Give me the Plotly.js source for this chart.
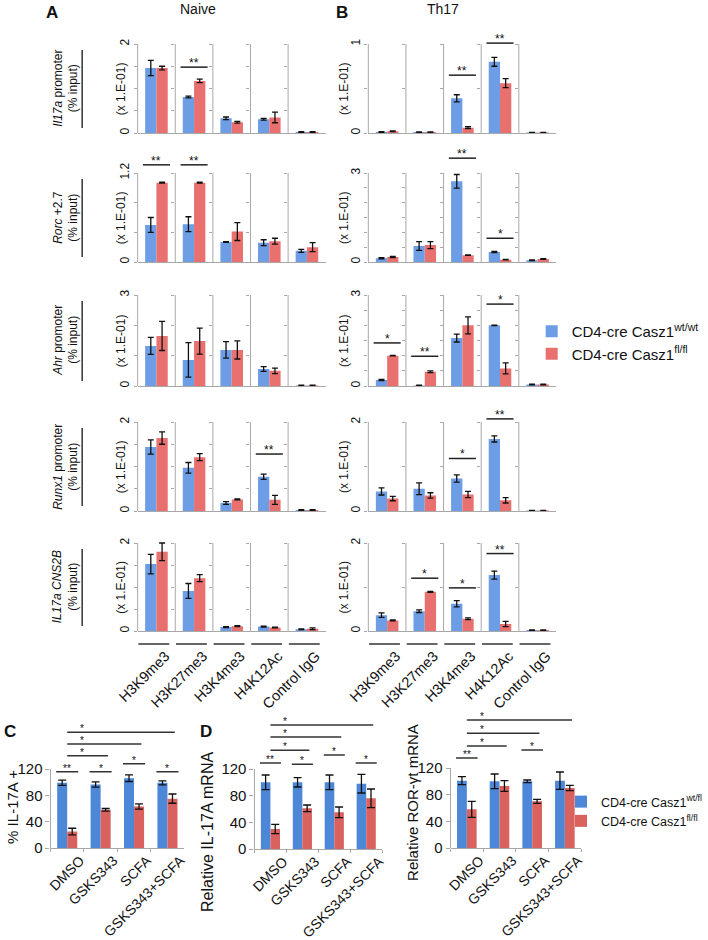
<!DOCTYPE html>
<html><head><meta charset="utf-8">
<script src="https://cdn.plot.ly/plotly-3.0.1.min.js"></script>
<style>html,body{margin:0;padding:0;background:#fff}</style>
</head><body><div id="chart" style="width:708px;height:940px"></div>
<script>
// ================= DATA =================
const marks = ['H3K9me3','H3K27me3','H3K4me3','H4K12Ac','Control IgG'];
const loci = ['<i>Il17a</i> promoter','<i>Rorc</i> +2.7','<i>Ahr</i> promoter','<i>Runx1</i> promoter','<i>IL17a CNS2B</i>'];
const seriesNamesAB = ['CD4-cre Casz1<sup>wt/wt</sup>','CD4-cre Casz1<sup>fl/fl</sup>'];
const seriesNamesCD = ['CD4-cre Casz1<sup>wt/fl</sup>','CD4-cre Casz1<sup>fl/fl</sup>'];

// y-axis maxima / tick steps (x 1.E-01 % input)
const naiveYMax = [2, 1.2, 3, 2, 2];
const naiveYStep = [0.5, 0.4, 1, 0.5, 0.5];
const th17YMax = [1, 3, 3, 2, 2];
const th17YStep = [0.5, 0.5, 0.5, 1, 1];

// Panel A - Naive
const naiveIl17aWT = [1.46, 0.81, 0.33, 0.31, 0.02];
const naiveIl17aWTErr = [0.17, 0.02, 0.03, 0.02, 0.01];
const naiveIl17aKO = [1.46, 1.17, 0.24, 0.35, 0.02];
const naiveIl17aKOErr = [0.04, 0.04, 0.02, 0.12, 0.01];
const naiveIl17aSig = [['H3K27me3', 1.48, '**']];

const naiveRorcWT = [0.50, 0.51, 0.27, 0.26, 0.15];
const naiveRorcWTErr = [0.10, 0.10, 0.005, 0.04, 0.02];
const naiveRorcKO = [1.07, 1.07, 0.41, 0.28, 0.20];
const naiveRorcKOErr = [0.005, 0.005, 0.12, 0.04, 0.06];
const naiveRorcSig = [['H3K9me3', 1.31, '**'], ['H3K27me3', 1.31, '**']];

const naiveAhrWT = [1.32, 0.86, 1.19, 0.56, 0.02];
const naiveAhrWTErr = [0.28, 0.57, 0.27, 0.08, 0.005];
const naiveAhrKO = [1.65, 1.48, 1.19, 0.50, 0.02];
const naiveAhrKOErr = [0.48, 0.43, 0.30, 0.09, 0.005];
const naiveAhrSig = [];

const naiveRunx1WT = [1.44, 0.97, 0.18, 0.77, 0.02];
const naiveRunx1WTErr = [0.16, 0.12, 0.03, 0.06, 0.01];
const naiveRunx1KO = [1.64, 1.21, 0.26, 0.25, 0.02];
const naiveRunx1KOErr = [0.14, 0.08, 0.01, 0.10, 0.01];
const naiveRunx1Sig = [['H4K12Ac', 1.28, '**']];

const naiveCns2bWT = [1.52, 0.91, 0.09, 0.10, 0.04];
const naiveCns2bWTErr = [0.22, 0.17, 0.01, 0.01, 0.01];
const naiveCns2bKO = [1.80, 1.20, 0.11, 0.08, 0.05];
const naiveCns2bKOErr = [0.20, 0.08, 0.01, 0.01, 0.02];
const naiveCns2bSig = [];

// Panel B - Th17
const th17Il17aWT = [0.01, 0.01, 0.39, 0.80, 0.005];
const th17Il17aWTErr = [0.005, 0.003, 0.04, 0.05, 0.002];
const th17Il17aKO = [0.02, 0.01, 0.06, 0.56, 0.005];
const th17Il17aKOErr = [0.005, 0.003, 0.01, 0.05, 0.002];
const th17Il17aSig = [['H3K4me3', 0.65, '**'], ['H4K12Ac', 1.01, '**']];

const th17RorcWT = [0.13, 0.54, 2.72, 0.34, 0.06];
const th17RorcWTErr = [0.02, 0.15, 0.23, 0.02, 0.01];
const th17RorcKO = [0.17, 0.57, 0.23, 0.08, 0.10];
const th17RorcKOErr = [0.02, 0.12, 0.01, 0.01, 0.01];
const th17RorcSig = [['H3K4me3', 3.5, '**'], ['H4K12Ac', 0.8, '*']];

const th17AhrWT = [0.20, 0.02, 1.58, 2.00, 0.05];
const th17AhrWTErr = [0.02, 0.005, 0.13, 0.01, 0.01];
const th17AhrKO = [1.00, 0.47, 2.00, 0.58, 0.05];
const th17AhrKOErr = [0.01, 0.03, 0.28, 0.18, 0.01];
const th17AhrSig = [['H3K9me3', 1.42, '*'], ['H3K27me3', 0.98, '**'], ['H4K12Ac', 2.7, '*']];

const th17Runx1WT = [0.44, 0.50, 0.73, 1.62, 0.01];
const th17Runx1WTErr = [0.08, 0.13, 0.08, 0.07, 0.005];
const th17Runx1KO = [0.28, 0.35, 0.37, 0.24, 0.01];
const th17Runx1KOErr = [0.05, 0.06, 0.07, 0.06, 0.005];
const th17Runx1Sig = [['H3K4me3', 1.18, '*'], ['H4K12Ac', 2.07, '**']];

const th17Cns2bWT = [0.36, 0.45, 0.62, 1.27, 0.02];
const th17Cns2bWTErr = [0.05, 0.03, 0.07, 0.09, 0.005];
const th17Cns2bKO = [0.24, 0.89, 0.28, 0.16, 0.02];
const th17Cns2bKOErr = [0.01, 0.01, 0.02, 0.06, 0.005];
const th17Cns2bSig = [['H3K27me3', 1.2, '*'], ['H3K4me3', 0.98, '*'], ['H4K12Ac', 1.76, '**']];

// Panels C / D
const conds = ['DMSO','GSKS343','SCFA','GSKS343+SCFA'];
const cdYTicks = [0, 40, 80, 120];

const il17aPctWT = [99, 96.5, 106, 99];
const il17aPctWTErr = [4, 4, 5, 3];
const il17aPctKO = [25, 58, 63, 75];
const il17aPctKOErr = [5, 2, 4, 7];
const il17aPctSig = [['DMSO','DMSO',116,'**'],['GSKS343','GSKS343',116,'*'],['SCFA','SCFA',128,'*'],['GSKS343+SCFA','GSKS343+SCFA',116,'*'],['DMSO','GSKS343',140,'*'],['DMSO','SCFA',158,'*'],['DMSO','GSKS343+SCFA',176,'*']];

const il17aMrnaWT = [100, 100, 100, 98];
const il17aMrnaWTErr = [11, 7, 11, 14];
const il17aMrnaKO = [30, 61, 55, 76];
const il17aMrnaKOErr = [7, 5, 8, 14];
const il17aMrnaSig = [['DMSO','DMSO',129,'**'],['GSKS343','GSKS343',127,'*'],['SCFA','SCFA',141,'*'],['GSKS343+SCFA','GSKS343+SCFA',129,'*'],['DMSO','GSKS343',148,'*'],['DMSO','SCFA',168,'*'],['DMSO','GSKS343+SCFA',186,'*']];

const rorMrnaWT = [101, 100, 100, 101];
const rorMrnaWTErr = [6, 11, 2, 13];
const rorMrnaKO = [58, 93, 70, 90];
const rorMrnaKOErr = [12, 8, 3, 4];
const rorMrnaSig = [['DMSO','DMSO',135,'**'],['SCFA','SCFA',147,'*'],['DMSO','GSKS343',153,'*'],['DMSO','SCFA',172,'*'],['DMSO','GSKS343+SCFA',192,'*']];

// ================= BUILD =================
const FONT = 'Liberation Sans, Arial, Helvetica, sans-serif';
const W = 708, H = 940;
const px = v => v / W;
const py = v => 1 - v / H;
const BLUE_AB = '#6d9de4', RED_AB = '#e8716f';
const BLUE_CD = '#4d87d8', RED_CD = '#d9625f';
const AXC = '#a8a8a8';
const ERR = {type:'data', visible:true, color:'#111', thickness:1.3, width:3};

const naiveRows = [
  {wt:naiveIl17aWT, we:naiveIl17aWTErr, ko:naiveIl17aKO, ke:naiveIl17aKOErr, sig:naiveIl17aSig},
  {wt:naiveRorcWT, we:naiveRorcWTErr, ko:naiveRorcKO, ke:naiveRorcKOErr, sig:naiveRorcSig},
  {wt:naiveAhrWT, we:naiveAhrWTErr, ko:naiveAhrKO, ke:naiveAhrKOErr, sig:naiveAhrSig},
  {wt:naiveRunx1WT, we:naiveRunx1WTErr, ko:naiveRunx1KO, ke:naiveRunx1KOErr, sig:naiveRunx1Sig},
  {wt:naiveCns2bWT, we:naiveCns2bWTErr, ko:naiveCns2bKO, ke:naiveCns2bKOErr, sig:naiveCns2bSig}
];
const th17Rows = [
  {wt:th17Il17aWT, we:th17Il17aWTErr, ko:th17Il17aKO, ke:th17Il17aKOErr, sig:th17Il17aSig},
  {wt:th17RorcWT, we:th17RorcWTErr, ko:th17RorcKO, ke:th17RorcKOErr, sig:th17RorcSig},
  {wt:th17AhrWT, we:th17AhrWTErr, ko:th17AhrKO, ke:th17AhrKOErr, sig:th17AhrSig},
  {wt:th17Runx1WT, we:th17Runx1WTErr, ko:th17Runx1KO, ke:th17Runx1KOErr, sig:th17Runx1Sig},
  {wt:th17Cns2bWT, we:th17Cns2bWTErr, ko:th17Cns2bKO, ke:th17Cns2bKOErr, sig:th17Cns2bSig}
];

const rowsPx = [[44,133],[173,262],[295,386],[422,511],[543,631]];
const EXT = 24;
const cellW = 38;
const panelLeft = [139, 372];
const yTitleX = [122, 347];
const panels = [
  {rows: naiveRows, max: naiveYMax, step: naiveYStep},
  {rows: th17Rows, max: th17YMax, step: th17YStep}
];

const traces = [];
const shapes = [];
const annotations = [];
const layout = {
  width: W, height: H, autosize: false,
  margin: {l:0, r:0, t:0, b:0},
  paper_bgcolor: '#fff', plot_bgcolor: 'rgba(0,0,0,0)',
  barmode: 'group', bargap: 0.4, bargroupgap: 0,
  font: {family: FONT, color: '#111'},
  showlegend: true,
  legend: {x: px(537), y: py(315), xanchor:'left', yanchor:'top', font:{size:15, family:FONT}, bgcolor:'rgba(0,0,0,0)', tracegroupgap:0},
  legend2: {x: px(567), y: py(787), xanchor:'left', yanchor:'top', font:{size:12.5, family:FONT}, bgcolor:'rgba(0,0,0,0)', tracegroupgap:0}
};
const sfx = n => (n === 1 ? '' : String(n));
const paperText = (x, y, text, size, angle) => ({
  xref:'paper', yref:'paper', x:px(x), y:py(y), xanchor:'center', yanchor:'middle',
  text:text, textangle: angle || 0, showarrow:false, font:{size:size, family:FONT, color:'#111'}
});

let n = 0;
panels.forEach((P, p) => {
  P.rows.forEach((R, r) => {
    const top = rowsPx[r][0], base = rowsPx[r][1];
    const ymax = P.max[r];
    const rmax = ymax * (base - (top - EXT)) / (base - top);
    const inner = [];
    const steps = Math.round(ymax / P.step[r]);
    for (let k = 1; k < steps; k++) inner.push(+(k * P.step[r]).toFixed(4));
    marks.forEach((m, c) => {
      n++;
      const s = sfx(n);
      const xa = 'x' + s, ya = 'y' + s;
      const first = (p === 0 && r === 0 && c === 0);
      traces.push({type:'bar', x:[m], y:[R.wt[c]], error_y:Object.assign({array:[R.we[c]]}, ERR),
        xaxis:xa, yaxis:ya, marker:{color:BLUE_AB}, name:seriesNamesAB[0], legend:'legend', showlegend:first, hoverinfo:'y'});
      traces.push({type:'bar', x:[m], y:[R.ko[c]], error_y:Object.assign({array:[R.ke[c]]}, ERR),
        xaxis:xa, yaxis:ya, marker:{color:RED_AB}, name:seriesNamesAB[1], legend:'legend', showlegend:first, hoverinfo:'y'});
      const L = panelLeft[p] + c * cellW;
      layout['xaxis' + s] = {
        domain:[px(L), px(L + cellW)], anchor: ya, type:'category', fixedrange:true,
        showline:true, linecolor:AXC, linewidth:1, showgrid:false, zeroline:false,
        ticks:'', showticklabels: r === 4, tickangle:-45,
        tickfont:{size:14.5, family:FONT, color:'#111'}, ticklabelstandoff: 10, ticklabelshift: 9
      };
      layout['yaxis' + s] = {
        domain:[py(base), py(top - EXT)], anchor: xa, range:[0, rmax], fixedrange:true,
        showline:false, showgrid:false, zeroline:false,
        tickmode:'array', tickvals:[0, ymax], ticktext:['0', String(ymax)], showticklabels: c === 0,
        ticks:'outside', ticklen:3, tickcolor:AXC, tickangle:-90,
        tickfont:{size:12, family:FONT, color:'#111'},
        minor:{tickmode:'array', tickvals:inner, ticks:'outside', ticklen:3, tickcolor:AXC, showgrid:false}
      };
      shapes.push({type:'line', xref: xa + ' domain', yref: ya, x0:0, x1:0, y0:0, y1:ymax, line:{color:AXC, width:1}});
      if (r === 4) {
        shapes.push({type:'line', xref: xa + ' domain', yref:'paper', x0:0.02, x1:0.84, y0:py(644), y1:py(644), line:{color:'#333', width:1.5}});
      }
      R.sig.filter(g => g[0] === m).forEach(g => {
        shapes.push({type:'line', xref: xa + ' domain', yref: ya, x0:0.14, x1:0.86, y0:g[1], y1:g[1], line:{color:'#222', width:1.5}});
        annotations.push({xref: xa + ' domain', yref: ya, x:0.5, y:g[1], xanchor:'center', text:g[2], showarrow:false, yanchor:'bottom', yshift:-5, font:{size:12, family:FONT, color:'#111'}});
      });
    });
    annotations.push(paperText(yTitleX[p], (top + base) / 2, '(x 1.E-01)', 12, -90));
    if (p === 0) {
      annotations.push(paperText(66, (top + base) / 2, loci[r] + '<br>(% input)', 12, -90));
      shapes.push({type:'line', xref:'paper', yref:'paper', x0:px(83), x1:px(83), y0:py(top + 6), y1:py(base - 5), line:{color:'#333', width:1.5}});
    }
  });
});

// ---- C / D ----
const cdPanels = [
  {wt:il17aPctWT, we:il17aPctWTErr, ko:il17aPctKO, ke:il17aPctKOErr, sig:il17aPctSig, x0:51, x1:186, base:848, top:769, dtop:712, title:'% IL-17A +', tx:12, ty:807, tsize:15, legend:true},
  {wt:il17aMrnaWT, we:il17aMrnaWTErr, ko:il17aMrnaKO, ke:il17aMrnaKOErr, sig:il17aMrnaSig, x0:257, x1:386, base:849, top:769, dtop:708, title:'Relative IL-17A mRNA', tx:209, ty:832, tsize:16, legend:false},
  {wt:rorMrnaWT, we:rorMrnaWTErr, ko:rorMrnaKO, ke:rorMrnaKOErr, sig:rorMrnaSig, x0:455, x1:587, base:848, top:768, dtop:706, title:'Relative ROR-\u03b3t mRNA', tx:416, ty:802, tsize:15, legend:false}
];
cdPanels.forEach((Q, q) => {
  n++;
  const s = sfx(n);
  const xa = 'x' + s, ya = 'y' + s;
  const ytop = cdYTicks[cdYTicks.length - 1];
  const rmax = ytop * (Q.base - Q.dtop) / (Q.base - Q.top);
  traces.push({type:'bar', x:conds, y:Q.wt, error_y:Object.assign({array:Q.we}, ERR, {width:4}),
    xaxis:xa, yaxis:ya, marker:{color:BLUE_CD}, name:seriesNamesCD[0], legend:'legend2', showlegend:Q.legend, hoverinfo:'y'});
  traces.push({type:'bar', x:conds, y:Q.ko, error_y:Object.assign({array:Q.ke}, ERR, {width:4}),
    xaxis:xa, yaxis:ya, marker:{color:RED_CD}, name:seriesNamesCD[1], legend:'legend2', showlegend:Q.legend, hoverinfo:'y'});
  layout['xaxis' + s] = {
    domain:[px(Q.x0), px(Q.x1)], anchor: ya, type:'category', fixedrange:true,
    showline:true, linecolor:AXC, linewidth:1, showgrid:false, zeroline:false,
    tickson:'boundaries', ticks:'outside', ticklen:3, tickcolor:AXC, tickangle:-45,
    tickfont:{size:14, family:FONT, color:'#111'}, ticklabelshift: 13, ticklabelstandoff: -2
  };
  layout['yaxis' + s] = {
    domain:[py(Q.base), py(Q.dtop)], anchor: xa, range:[0, rmax], fixedrange:true,
    showline:false, showgrid:false, zeroline:false,
    tickmode:'array', tickvals: cdYTicks, ticktext: cdYTicks.map(String),
    ticks:'outside', ticklen:4, tickcolor:AXC,
    tickfont:{size:15, family:FONT, color:'#111'}
  };
  shapes.push({type:'line', xref: xa + ' domain', yref: ya, x0:0, x1:0, y0:0, y1:ytop, line:{color:AXC, width:1}});
  annotations.push(paperText(Q.tx, Q.ty, Q.title, Q.tsize, -90));
  Q.sig.forEach(g => {
    const i0 = conds.indexOf(g[0]), i1 = conds.indexOf(g[1]);
    let a, b, t;
    if (i0 === i1) { a = i0 - 0.33; b = i0 + 0.33; t = i0; }
    else { a = i0; b = i1 + 0.22; t = i0 + 0.45; }
    shapes.push({type:'line', xref: xa, yref: ya, x0:a, x1:b, y0:g[2], y1:g[2], line:{color:'#333', width:1.5}});
    annotations.push({xref: xa, yref: ya, x:t, y:g[2], xanchor:'center', text:g[3], showarrow:false, yanchor:'bottom', yshift:-4, font:{size:10, family:FONT, color:'#111'}});
  });
});

// panel letters & headers
annotations.push(paperText(53, 12, '<b>A</b>', 17));
annotations.push(paperText(345, 12, '<b>B</b>', 17));
annotations.push(paperText(200, 9, 'Naive', 14));
annotations.push(paperText(447, 9, 'Th17', 14));
annotations.push(paperText(10, 731, '<b>C</b>', 17));
annotations.push(paperText(208, 731, '<b>D</b>', 17));

layout.shapes = shapes;
layout.annotations = annotations;

Plotly.newPlot('chart', traces, layout, {displayModeBar:false, staticPlot:true});
</script>
</body></html>
